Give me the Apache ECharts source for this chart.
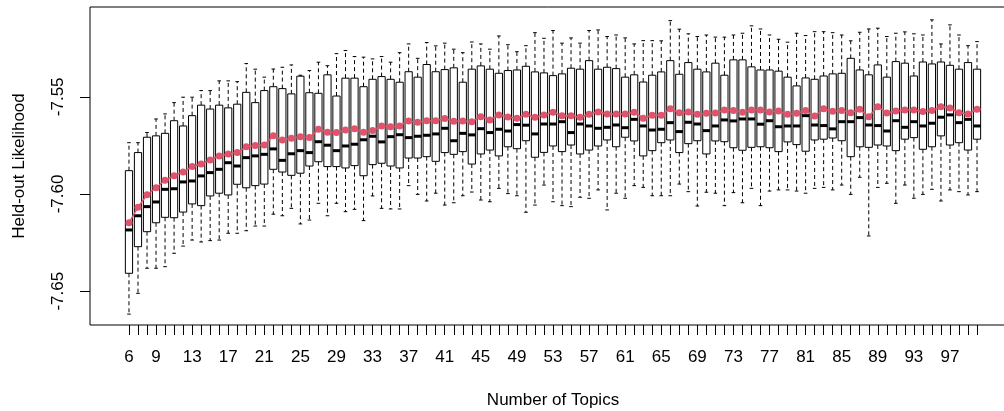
<!DOCTYPE html>
<html>
<head>
<meta charset="utf-8">
<script src="https://cdn.jsdelivr.net/npm/echarts@6/dist/echarts.min.js"></script>
<style>
html,body{margin:0;padding:0;background:#fff;}
#chart{width:1004px;height:411px;}
</style>
</head>
<body>
<div id="chart"></div>
<script>
// Categories: number of topics
var topics = [6,7,8,9,10,11,12,13,14,15,16,17,18,19,20,21,22,23,24,25,26,27,28,29,30,31,32,33,34,35,36,37,38,39,40,41,42,43,44,45,46,47,48,49,50,51,52,53,54,55,56,57,58,59,60,61,62,63,64,65,66,67,68,69,70,71,72,73,74,75,76,77,78,79,80,81,82,83,84,85,86,87,88,89,90,91,92,93,94,95,96,97,98,99,100];
// Tick labels shown on the x axis
var xTickLabels = [6,9,13,17,21,25,29,33,37,41,45,49,53,57,61,65,69,73,77,81,85,89,93,97];
// Tick labels shown on the y axis
var yTickLabels = [-7.65,-7.60,-7.55];

// Upper whisker ends
var whiskerHigh = [-7.5736,-7.5736,-7.5684,-7.5614,-7.5588,-7.5530,-7.5502,-7.5502,-7.5468,-7.5468,-7.5418,-7.5418,-7.5422,-7.5329,-7.5358,-7.5399,-7.5357,-7.5348,-7.5336,-7.5389,-7.5365,-7.5322,-7.5340,-7.5278,-7.5262,-7.5293,-7.5296,-7.5305,-7.5293,-7.5322,-7.5273,-7.5228,-7.5302,-7.5221,-7.5238,-7.5224,-7.5255,-7.5273,-7.5218,-7.5228,-7.5255,-7.5187,-7.5232,-7.5268,-7.5237,-7.5170,-7.5199,-7.5159,-7.5224,-7.5197,-7.5224,-7.5159,-7.5156,-7.5190,-7.5182,-7.5197,-7.5228,-7.5211,-7.5211,-7.5212,-7.5108,-7.5152,-7.5176,-7.5190,-7.5182,-7.5193,-7.5193,-7.5182,-7.5173,-7.5135,-7.5151,-7.5182,-7.5204,-7.5219,-7.5173,-7.5185,-7.5165,-7.5165,-7.5170,-7.5182,-7.5212,-7.5168,-7.5151,-7.5147,-7.5190,-7.5173,-7.5166,-7.5176,-7.5182,-7.5104,-7.5228,-7.5130,-7.5182,-7.5237,-7.5216];
// Upper quartiles
var q3 = [-7.5880,-7.5787,-7.5708,-7.5701,-7.5688,-7.5623,-7.5650,-7.5597,-7.5543,-7.5563,-7.5543,-7.5557,-7.5538,-7.5477,-7.5530,-7.5468,-7.5448,-7.5458,-7.5485,-7.5394,-7.5479,-7.5482,-7.5387,-7.5496,-7.5404,-7.5404,-7.5448,-7.5410,-7.5396,-7.5410,-7.5425,-7.5371,-7.5399,-7.5334,-7.5371,-7.5360,-7.5351,-7.5425,-7.5358,-7.5341,-7.5358,-7.5379,-7.5365,-7.5362,-7.5343,-7.5372,-7.5377,-7.5391,-7.5382,-7.5353,-7.5358,-7.5314,-7.5358,-7.5348,-7.5355,-7.5399,-7.5387,-7.5424,-7.5389,-7.5372,-7.5314,-7.5384,-7.5324,-7.5358,-7.5372,-7.5327,-7.5389,-7.5310,-7.5310,-7.5346,-7.5362,-7.5362,-7.5368,-7.5399,-7.5444,-7.5403,-7.5410,-7.5393,-7.5382,-7.5379,-7.5302,-7.5362,-7.5387,-7.5336,-7.5399,-7.5319,-7.5327,-7.5393,-7.5321,-7.5331,-7.5321,-7.5338,-7.5358,-7.5324,-7.5358];
// Medians
var medians = [-7.6185,-7.6112,-7.6065,-7.6041,-7.5976,-7.5973,-7.5938,-7.5933,-7.5907,-7.5890,-7.5873,-7.5839,-7.5856,-7.5813,-7.5804,-7.5796,-7.5768,-7.5827,-7.5793,-7.5777,-7.5787,-7.5731,-7.5749,-7.5777,-7.5753,-7.5744,-7.5721,-7.5703,-7.5732,-7.5705,-7.5695,-7.5710,-7.5703,-7.5698,-7.5691,-7.5662,-7.5726,-7.5688,-7.5696,-7.5664,-7.5684,-7.5667,-7.5676,-7.5643,-7.5646,-7.5691,-7.5640,-7.5640,-7.5628,-7.5684,-7.5640,-7.5650,-7.5662,-7.5657,-7.5645,-7.5659,-7.5616,-7.5650,-7.5671,-7.5667,-7.5633,-7.5679,-7.5631,-7.5640,-7.5674,-7.5650,-7.5619,-7.5624,-7.5614,-7.5614,-7.5641,-7.5623,-7.5654,-7.5650,-7.5650,-7.5597,-7.5645,-7.5648,-7.5665,-7.5628,-7.5628,-7.5607,-7.5645,-7.5648,-7.5676,-7.5623,-7.5657,-7.5628,-7.5650,-7.5636,-7.5605,-7.5593,-7.5633,-7.5616,-7.5650];
// Lower quartiles
var q1 = [-7.6408,-7.6271,-7.6194,-7.6148,-7.6120,-7.6122,-7.6093,-7.6051,-7.6060,-7.6010,-7.5996,-7.6005,-7.5950,-7.5968,-7.5957,-7.5949,-7.5873,-7.5887,-7.5904,-7.5893,-7.5856,-7.5834,-7.5859,-7.5859,-7.5866,-7.5854,-7.5906,-7.5849,-7.5842,-7.5856,-7.5866,-7.5815,-7.5815,-7.5808,-7.5832,-7.5787,-7.5796,-7.5782,-7.5846,-7.5794,-7.5774,-7.5804,-7.5757,-7.5767,-7.5726,-7.5811,-7.5786,-7.5753,-7.5782,-7.5748,-7.5794,-7.5774,-7.5753,-7.5722,-7.5757,-7.5708,-7.5727,-7.5804,-7.5777,-7.5736,-7.5722,-7.5787,-7.5741,-7.5726,-7.5794,-7.5727,-7.5731,-7.5762,-7.5775,-7.5760,-7.5757,-7.5762,-7.5782,-7.5732,-7.5746,-7.5780,-7.5722,-7.5718,-7.5712,-7.5726,-7.5808,-7.5757,-7.5760,-7.5748,-7.5753,-7.5777,-7.5718,-7.5710,-7.5770,-7.5757,-7.5701,-7.5748,-7.5736,-7.5774,-7.5718];
// Lower whisker ends
var whiskerLow = [-7.6618,-7.6511,-7.6382,-7.6382,-7.6374,-7.6305,-7.6268,-7.6237,-7.6247,-7.6240,-7.6237,-7.6202,-7.6202,-7.6189,-7.6165,-7.6165,-7.6104,-7.6112,-7.6074,-7.6154,-7.6134,-7.6048,-7.6112,-7.6048,-7.6091,-7.6079,-7.6137,-7.6010,-7.6074,-7.6077,-7.6077,-7.5957,-7.6002,-7.6036,-7.5996,-7.6057,-7.6045,-7.6009,-7.5990,-7.6031,-7.6040,-7.5971,-7.5998,-7.6009,-7.6094,-7.6057,-7.5954,-7.6040,-7.6060,-7.6065,-7.6017,-7.6022,-7.5979,-7.6082,-7.5996,-7.6022,-7.5957,-7.5966,-7.6009,-7.6009,-7.6009,-7.5949,-7.5988,-7.6062,-7.5991,-7.5996,-7.6060,-7.5993,-7.6045,-7.5971,-7.6060,-7.5985,-7.5979,-7.5979,-7.5985,-7.5996,-7.5971,-7.5966,-7.5979,-7.5954,-7.6002,-7.5914,-7.6216,-7.5966,-7.5945,-7.6048,-7.5954,-7.6022,-7.6002,-7.5976,-7.6036,-7.5979,-7.5988,-7.6005,-7.5988];
// Means (red points)
var means = [-7.6148,-7.6068,-7.6004,-7.5968,-7.5929,-7.5906,-7.5887,-7.5859,-7.5846,-7.5825,-7.5804,-7.5794,-7.5787,-7.5757,-7.5751,-7.5748,-7.5701,-7.5722,-7.5713,-7.5705,-7.5710,-7.5667,-7.5682,-7.5684,-7.5671,-7.5665,-7.5682,-7.5674,-7.5650,-7.5654,-7.5650,-7.5624,-7.5631,-7.5623,-7.5623,-7.5612,-7.5626,-7.5624,-7.5628,-7.5602,-7.5619,-7.5593,-7.5604,-7.5610,-7.5590,-7.5605,-7.5593,-7.5579,-7.5597,-7.5597,-7.5605,-7.5590,-7.5578,-7.5588,-7.5588,-7.5588,-7.5579,-7.5610,-7.5595,-7.5595,-7.5561,-7.5582,-7.5578,-7.5590,-7.5585,-7.5583,-7.5568,-7.5571,-7.5579,-7.5568,-7.5568,-7.5578,-7.5573,-7.5590,-7.5585,-7.5571,-7.5599,-7.5561,-7.5574,-7.5571,-7.5582,-7.5564,-7.5602,-7.5551,-7.5583,-7.5573,-7.5568,-7.5568,-7.5576,-7.5571,-7.5551,-7.5557,-7.5582,-7.5588,-7.5564];

var boxData = topics.map(function (t, i) {
  return [t, whiskerLow[i], q1[i], medians[i], q3[i], whiskerHigh[i]];
});
var meanData = topics.map(function (t, i) { return [t, means[i]]; });

var FONT = '"Liberation Sans", Arial, Helvetica, sans-serif';
var INK = '#000';

function renderBox(params, api) {
  var x = api.value(0);
  var lo = api.coord([x, api.value(1)]);
  var b1 = api.coord([x, api.value(2)]);
  var md = api.coord([x, api.value(3)]);
  var b3 = api.coord([x, api.value(4)]);
  var hi = api.coord([x, api.value(5)]);
  var bw = api.size([0.8, 0])[0];
  var cx = lo[0];
  var half = bw / 2, sh = bw / 4;
  var dash = {stroke: INK, lineWidth: 1, lineDash: [4, 3]};
  var solid = {stroke: INK, lineWidth: 1};
  return {
    type: 'group',
    children: [
      {type: 'line', shape: {x1: cx, y1: b3[1], x2: cx, y2: hi[1]}, style: dash},
      {type: 'line', shape: {x1: cx, y1: b1[1], x2: cx, y2: lo[1]}, style: dash},
      {type: 'line', shape: {x1: cx - sh, y1: hi[1], x2: cx + sh, y2: hi[1]}, style: solid},
      {type: 'line', shape: {x1: cx - sh, y1: lo[1], x2: cx + sh, y2: lo[1]}, style: solid},
      {type: 'rect', shape: {x: cx - half, y: b3[1], width: bw, height: b1[1] - b3[1]},
        style: {fill: '#fff', stroke: INK, lineWidth: 1}},
      {type: 'line', shape: {x1: cx - half, y1: md[1], x2: cx + half, y2: md[1]},
        style: {stroke: INK, lineWidth: 3}}
    ]
  };
}

var chart = echarts.init(document.getElementById('chart'), null, {renderer: 'canvas'});
chart.setOption({
  animation: false,
  backgroundColor: '#fff',
  grid: {left: 90, top: 7, right: -12, bottom: 86, show: true, borderColor: '#000', borderWidth: 1,
    containLabel: false, outerBoundsMode: 'none'},
  xAxis: {
    type: 'value', min: 1.68, max: 104.32,
    axisLine: {show: false},
    splitLine: {show: false},
    axisTick: {show: true, customValues: topics, length: 10, lineStyle: {color: INK, width: 1}},
    axisLabel: {customValues: xTickLabels, margin: 24, fontSize: 17, fontFamily: FONT, color: INK}
  },
  yAxis: {
    type: 'value', min: -7.6674, max: -7.5038,
    axisLine: {show: false},
    splitLine: {show: false},
    axisTick: {show: true, customValues: yTickLabels, length: 10, lineStyle: {color: INK, width: 1}},
    axisLabel: {customValues: yTickLabels, rotate: 90, margin: 23, fontSize: 17, fontFamily: FONT, color: INK,
      formatter: function (v) { return v.toFixed(2); }}
  },
  graphic: [
    {type: 'text', x: 19, y: 166, rotation: Math.PI / 2,
      style: {text: 'Held-out Likelihood', font: '17px ' + FONT, fill: INK, align: 'center', verticalAlign: 'middle'}},
    {type: 'text', x: 553, y: 400,
      style: {text: 'Number of Topics', font: '17px ' + FONT, fill: INK, align: 'center', verticalAlign: 'middle'}}
  ],
  series: [
    {type: 'custom', renderItem: renderBox, data: boxData, encode: {x: 0, y: [1, 2, 3, 4, 5]}, clip: false, z: 2},
    {type: 'line', data: meanData, symbol: 'circle', symbolSize: 7, showSymbol: true,
      itemStyle: {color: '#DF536B'}, lineStyle: {color: '#DF536B', width: 1.5}, z: 3}
  ]
});
</script>
</body>
</html>
